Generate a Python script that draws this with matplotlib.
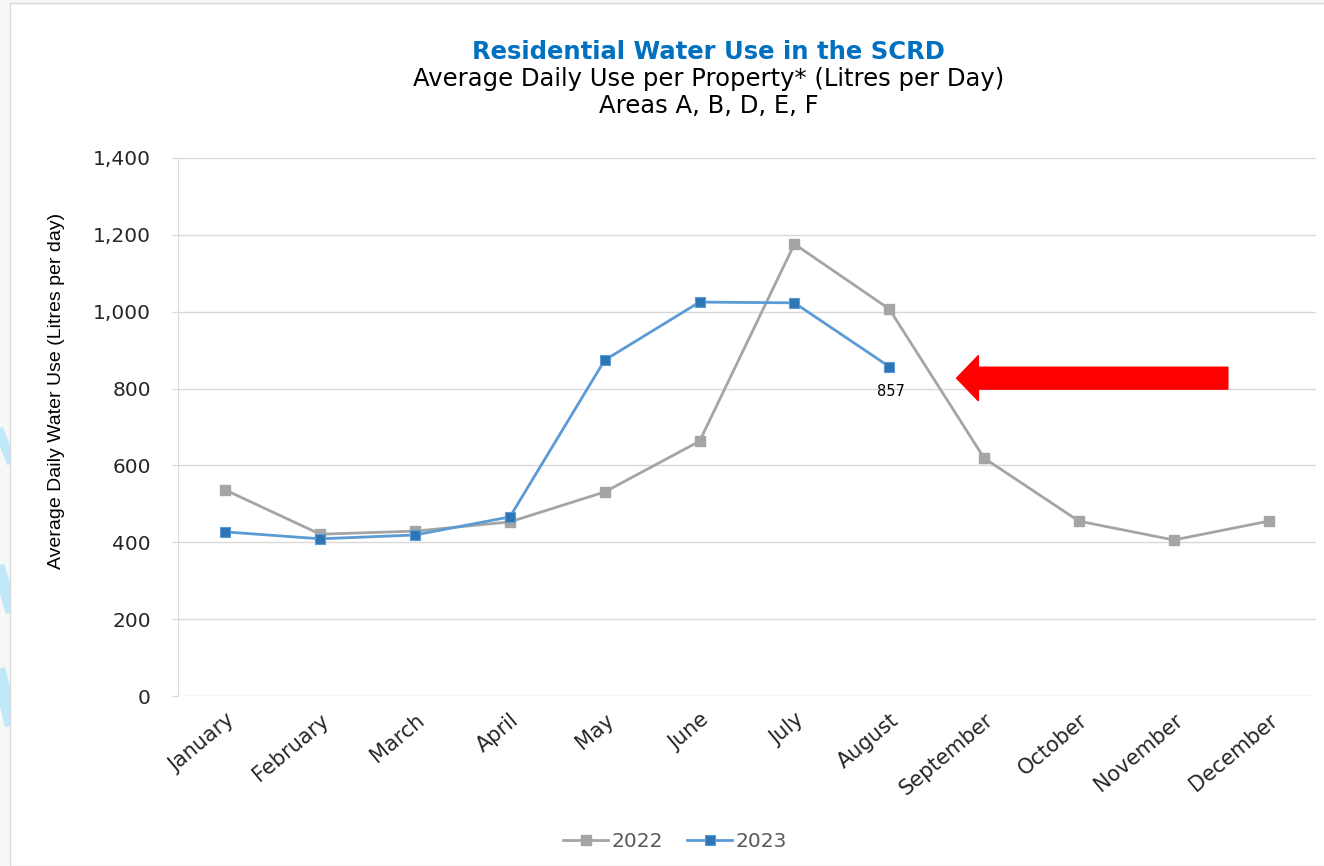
import matplotlib.pyplot as plt
from matplotlib.patches import FancyArrow, Rectangle
from matplotlib.lines import Line2D
import numpy as np

MONTHS = ["January", "February", "March", "April", "May", "June", "July",
          "August", "September", "October", "November", "December"]
USE_2022 = [536, 421, 429, 453, 531, 663, 1176, 1007, 619, 455, 406, 455]
USE_2023 = [427, 409, 419, 466, 874, 1025, 1023, 857]
Y_TICKS = [0, 200, 400, 600, 800, 1000, 1200, 1400]

GREY = "#A5A5A5"
BLUE_LINE = "#5B9BD5"
BLUE_MARK = "#2E75B6"
TITLE_BLUE = "#0070C0"
GRID = "#D9D9D9"
TEXT = "#262626"

fig = plt.figure(figsize=(13.24, 8.66), dpi=100, facecolor="white")

# faint page background strip and frame
fig.patches.append(Rectangle((0, 0), 1, 1, transform=fig.transFigure,
                             facecolor="#F7F7F7", edgecolor="none", zorder=-5))
fig.patches.append(Rectangle((0.0076, 0), 1, 0.9965, transform=fig.transFigure,
                             facecolor="white", edgecolor="#D9D9D9", lw=1, zorder=-4))
# light blue swooshes on the left edge
for y0, y1, lw in [(0.50, 0.47, 7), (0.34, 0.30, 9), (0.22, 0.17, 10)]:
    fig.add_artist(Line2D([0, 0.0076], [y0, y1], transform=fig.transFigure,
                          color="#BFE8FB", lw=lw, zorder=-4.5))

ax = fig.add_axes((0.1344, 0.1963, 0.8596, 0.6213))
x = np.arange(len(MONTHS))

ax.plot(x, USE_2022, color=GREY, lw=2.0, marker="s", ms=7.8,
        markerfacecolor=GREY, markeredgecolor=GREY, label="2022", zorder=3)
ax.plot(x[:len(USE_2023)], USE_2023, color=BLUE_LINE, lw=2.0, marker="s", ms=7.8,
        markerfacecolor=BLUE_MARK, markeredgecolor=BLUE_LINE, markeredgewidth=0.8,
        label="2023", zorder=4)

last = len(USE_2023) - 1
ax.annotate(f"{USE_2023[last]}", (x[last], USE_2023[last]), xytext=(1, -23),
            textcoords="offset points", ha="center", va="bottom",
            fontsize=10.5, color="black", family="DejaVu Sans")

# red arrow pointing at the latest month
ax.add_patch(FancyArrow(10.57, 827, -2.86, 0, width=57, head_width=118,
                        head_length=0.23, length_includes_head=True,
                        color="#FF0000", zorder=5))

ax.set_xlim(-0.5, len(MONTHS) - 0.5)
ax.set_ylim(0, 1400)
ax.set_yticks(Y_TICKS, [f"{v:,}" for v in Y_TICKS])
ax.set_xticks(x, MONTHS)
for lab in ax.get_xticklabels():
    lab.set_rotation(40)
    lab.set_ha("right")
    lab.set_rotation_mode("anchor")

ax.yaxis.grid(True, color=GRID, lw=1)
ax.set_axisbelow(True)
for side in ["top", "right", "bottom"]:
    ax.spines[side].set_visible(False)
ax.spines["left"].set_color(GRID)
ax.tick_params(axis="y", colors=GRID, labelcolor=TEXT, labelsize=14.5, length=4.5, pad=15)
ax.tick_params(axis="x", length=0, labelsize=15, labelcolor=TEXT, pad=10)
for lab in ax.get_yticklabels() + ax.get_xticklabels():
    lab.set_family("DejaVu Sans")

ax.set_ylabel("Average Daily Water Use (Litres per day)", fontsize=14, color="black",
              family=["Liberation Sans Narrow", "Liberation Sans"])
ax.yaxis.set_label_coords(-0.099, 0.567)

fig.text(0.535, 0.940, "Residential Water Use in the SCRD", ha="center", va="center",
         color=TITLE_BLUE, fontsize=17.5, fontweight="bold", family="DejaVu Sans")
fig.text(0.535, 0.909, "Average Daily Use per Property* (Litres per Day)", ha="center",
         va="center", color="black", fontsize=17.5, family="DejaVu Sans")
fig.text(0.535, 0.878, "Areas A, B, D, E, F", ha="center", va="center",
         color="black", fontsize=17.5, family="DejaVu Sans")

leg = fig.legend(loc="center", bbox_to_anchor=(0.51, 0.028), ncol=2, frameon=False,
                 handlelength=2.2, handletextpad=0.2, columnspacing=1.2,
                 prop={"family": "DejaVu Sans", "size": 14.5})
for t in leg.get_texts():
    t.set_color("#595959")

fig.savefig("out.png", dpi=100, facecolor=fig.get_facecolor())
